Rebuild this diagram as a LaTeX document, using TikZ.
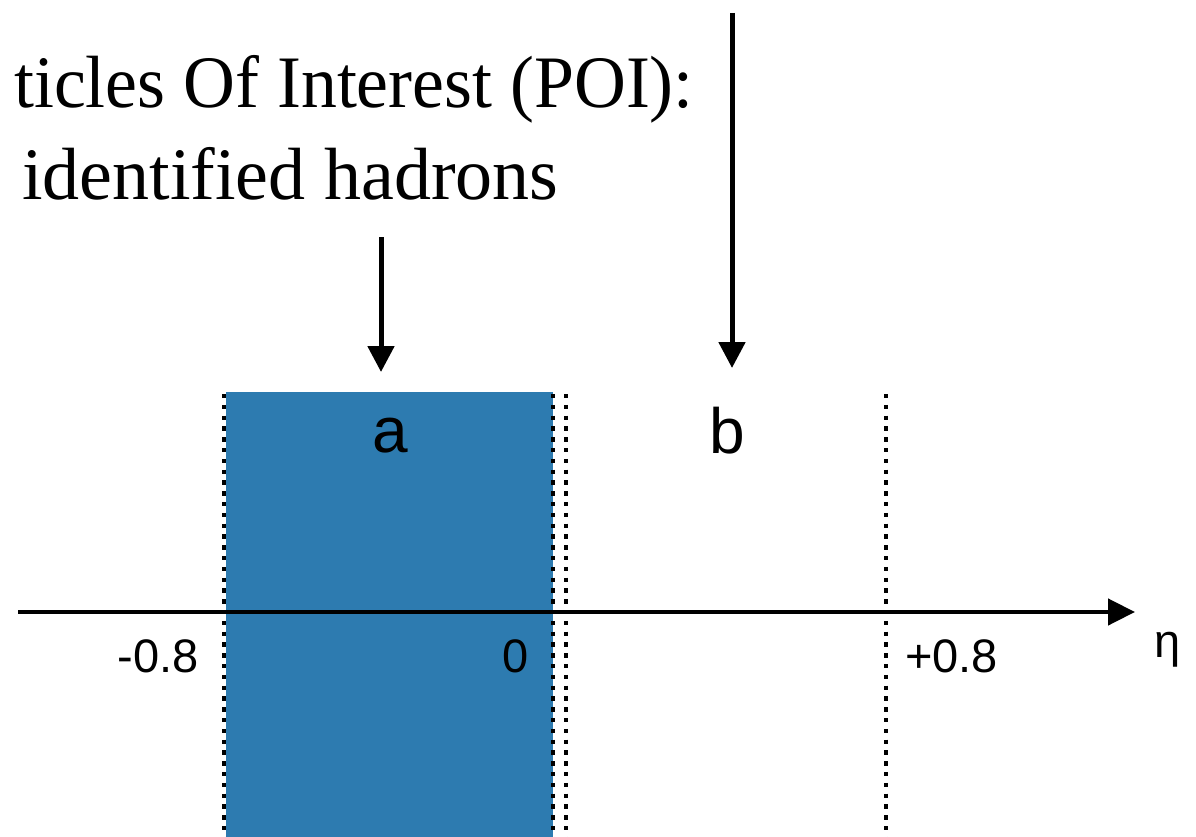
\documentclass[tikz,border=0pt]{standalone}
\usepackage{fontspec}
\usepackage{graphicx}
\setmainfont{Liberation Serif}
\newfontfamily\lsans{Liberation Sans}
\usetikzlibrary{arrows.meta}
\definecolor{regblue}{RGB}{45,123,176}
\tikzset{
  dotline/.style={line width=4.6pt, dash pattern=on 4.4pt off 6.4pt},
  arr/.style={line width=5pt, -{Triangle[length=26pt,width=26pt]}},
  serif/.style={inner sep=0pt, font=\fontsize{74}{74}\selectfont},
  lab/.style={inner sep=0pt, font=\lsans\fontsize{64}{64}\selectfont},
  num/.style={inner sep=0pt, font=\lsans\fontsize{47}{47}\selectfont}
}
\begin{document}
\begin{tikzpicture}[x=1pt,y=-1pt]
\useasboundingbox (0,0) rectangle (1196,837);
% shaded region a
\fill[regblue] (226,392) rectangle (553,837);
% dotted boundaries
\draw[dotline] (224,394) -- (224,837);
\draw[dotline] (553,394) -- (553,837);
\draw[dotline] (566,394) -- (566,837);
\draw[dotline] (886,394) -- (886,837);
% axis
\coordinate (axs) at (18,612);
\coordinate (axe) at (1135,612);
\draw[line width=4.5pt, -{Triangle[length=27pt,width=26pt]}] (axs) -- (axe);
% texts
\node[serif, anchor=base east] (poi1) at (694,108) {\scalebox{0.97}[1]{ticles Of Interest (POI):}};
\node[serif, anchor=base west] (poi2) at (22,200) {identified hadrons};
\node[lab, anchor=base] (la) at (390,452) {a};
\node[lab, anchor=base] (lb) at (727,453) {b};
\node[num, anchor=base east] (m08) at (199,672) {-0.8};
\node[num, anchor=base east] (z0) at (529,672) {0};
\node[num, anchor=base west] (p08) at (905,672) {+0.8};
\node[num, anchor=center] (eta) at (1168,650) {η};
% arrows
\coordinate (a1s) at (381,237);
\coordinate (a1e) at (381,372);
\coordinate (a2s) at (732,13);
\coordinate (a2e) at (732,368);
\draw[arr] (a1s) -- (a1e);
\draw[arr] (a2s) -- (a2e);
\end{tikzpicture}
\end{document}
